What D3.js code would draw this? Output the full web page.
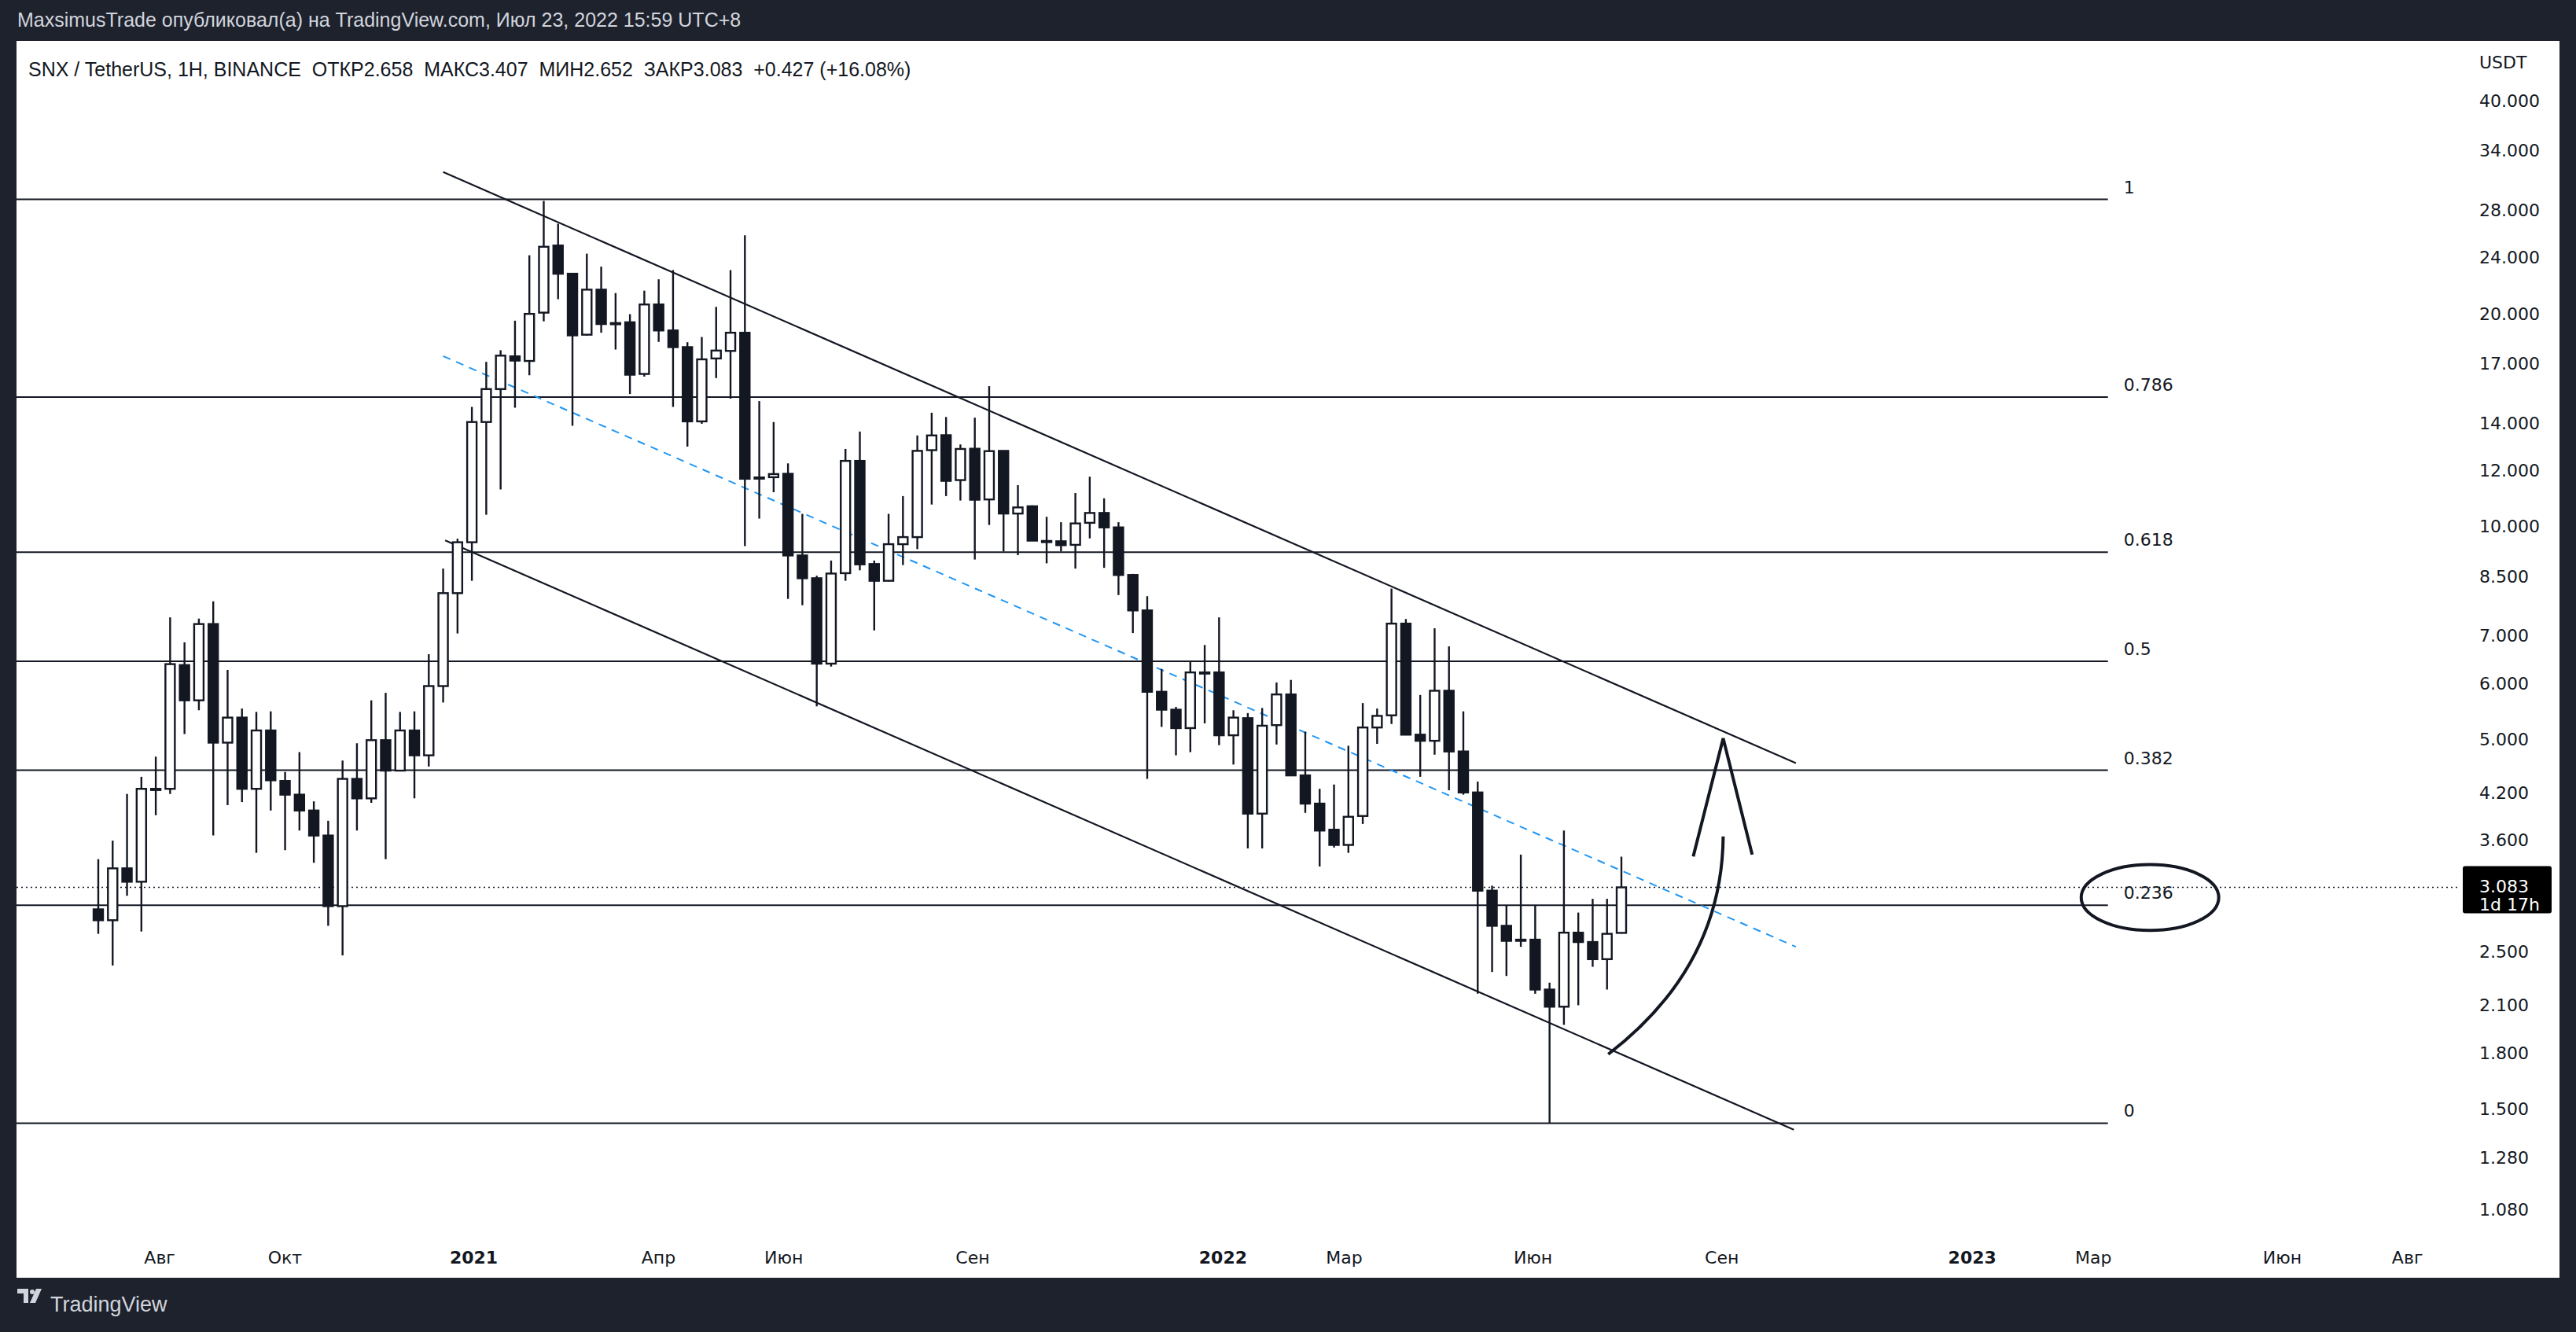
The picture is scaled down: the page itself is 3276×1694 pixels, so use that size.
<!DOCTYPE html>
<html><head><meta charset="utf-8">
<script src="https://cdn.jsdelivr.net/npm/d3@7"></script>
<style>html,body{margin:0;padding:0;background:#1e222d;}svg{display:block;}</style>
</head><body>
<svg id="c" width="3276" height="1694"></svg>
<script>
const startWeek = "2020-06-29";
const opens  = [2.87,2.77,3.28,3.14,4.24,4.25,6.36,5.67,7.27,4.94,5.36,4.25,5.14,4.36,4.17,3.96,3.65,2.90,4.39,4.12,4.98,4.51,5.14,4.74,5.94,8.04,9.49,14.04,15.63,17.39,
 17.13,20.05,24.95,22.76,18.66,21.61,19.38,19.43,16.42,20.59,18.92,17.92,14.07,17.27,17.70,18.78,11.72,11.73,11.86,9.09,8.44,6.39,8.58,12.37,8.84,8.37,9.43,9.65,12.81,
 13.45,11.62,12.87,10.91,12.78,10.42,10.67,9.53,9.52,9.41,10.11,10.44,9.96,8.53,7.60,5.83,5.50,5.18,6.21,6.21,5.06,5.35,3.92,5.23,5.78,4.44,4.05,3.72,3.54,
 3.89,5.19,5.40,7.28,5.07,4.97,5.85,4.80,4.20,3.05,2.72,2.60,2.60,2.21,2.09,2.66,2.58,2.44,2.658];
const highs  = [3.38,3.59,4.18,4.42,4.72,7.43,6.85,7.40,7.83,6.26,5.52,5.46,5.47,4.49,4.79,4.08,3.83,4.66,4.93,5.67,5.81,5.46,5.47,6.59,8.71,9.60,14.75,17.08,17.74,19.53,
 24.17,28.85,26.79,22.81,24.30,23.29,21.37,19.95,21.54,22.35,23.03,18.21,18.52,20.43,23.03,25.79,15.03,14.04,12.27,10.41,8.51,8.94,12.86,13.61,8.94,10.41,11.03,13.44,14.47,
 14.27,13.05,14.24,15.78,12.79,11.43,10.70,10.31,10.13,11.14,11.75,10.95,10.13,8.56,7.96,6.28,5.55,6.43,6.79,7.43,5.49,5.44,5.53,6.01,6.06,5.12,4.25,4.31,4.89,
 5.62,5.52,8.16,7.39,5.77,7.17,6.76,5.47,4.35,3.10,2.91,3.43,2.91,2.26,3.71,2.84,2.97,2.97,3.407];
const lows   = [2.65,2.39,3.00,2.67,3.90,4.18,5.08,5.49,3.65,4.03,4.07,3.45,3.96,3.48,3.71,3.34,2.72,2.47,3.71,4.06,3.38,4.51,4.12,4.57,5.63,7.05,8.37,10.38,11.27,14.71,
 16.35,19.49,20.95,13.87,18.60,18.78,17.78,15.38,16.28,18.23,14.75,12.96,13.96,16.20,15.15,9.37,10.25,11.17,7.89,7.73,5.56,6.33,8.37,8.66,7.12,8.35,8.81,9.28,10.73,
 11.03,10.87,8.97,10.04,9.21,9.10,9.53,8.86,9.21,8.71,9.61,8.73,7.99,7.06,4.39,5.20,4.74,4.79,5.26,4.90,4.60,3.50,3.50,4.91,4.44,3.93,3.30,3.51,3.45,
 3.79,4.92,5.25,5.07,4.42,4.75,4.23,4.17,2.18,2.34,2.31,2.54,2.18,1.43,1.97,2.10,2.38,2.21,2.652];
const closes = [2.77,3.28,3.14,4.25,4.25,6.38,5.67,7.27,4.94,5.36,4.25,5.14,4.37,4.17,3.96,3.65,2.90,4.39,4.12,4.98,4.51,5.14,4.74,5.94,8.04,9.49,14.04,15.63,17.43,17.15,
 19.97,24.85,22.76,18.62,21.61,19.32,19.36,16.38,20.59,18.92,17.92,14.07,17.22,17.72,18.78,11.67,11.70,11.85,9.09,8.44,6.39,8.57,12.37,8.83,8.37,9.43,9.65,12.78,13.44,
 11.59,12.86,10.90,12.77,10.42,10.63,9.54,9.53,9.40,10.09,10.44,9.96,8.53,7.60,5.83,5.50,5.18,6.21,6.21,5.06,5.36,3.92,5.22,5.78,4.44,4.05,3.71,3.54,3.88,
 5.19,5.39,7.28,5.07,4.97,5.85,4.80,4.20,3.05,2.72,2.59,2.59,2.21,2.09,2.66,2.58,2.44,2.65,3.083];

const priceTicks = [40,34,28,24,20,17,14,12,10,8.5,7,6,5,4.2,3.6,2.5,2.1,1.8,1.5,1.28,1.08];
const timeTicks = [["2020-08-01","Авг",0],["2020-10-01","Окт",0],["2021-01-01","2021",1],["2021-04-01","Апр",0],["2021-06-01","Июн",0],["2021-09-01","Сен",0],
 ["2022-01-01","2022",1],["2022-03-01","Мар",0],["2022-06-01","Июн",0],["2022-09-01","Сен",0],["2023-01-01","2023",1],["2023-03-01","Мар",0],["2023-06-01","Июн",0],["2023-08-01","Авг",0]];
const fibLevels = ["1","0.786","0.618","0.5","0.382","0.236","0"];
const fibHigh = 29.0, fibLow = 1.43, fibEnd = "2023-03-05";
const upperLine = [["2020-12-14",31.7],["2022-10-04",4.62]];
const lowerLine = [["2020-12-15",9.55],["2022-10-03",1.40]];
const midLine   = [["2020-12-14",17.4],["2022-10-04",2.54]];
const arrowCurve = [["2022-07-04T14:00Z",1.79],["2022-08-29T00:00Z",2.38],["2022-08-29T14:00Z",3.64]];
const chevron = [["2022-08-15",3.41],["2022-08-29T14:00Z",5.01],["2022-09-12T17:00Z",3.43]];
const ellipseBox = [["2023-02-20",3.32],["2023-04-28",2.68]];
const lastPrice = 3.083;

const svg = d3.select("#c");
const P = d => new Date(d.length<=10 ? d+"T00:00:00Z" : d);
const t0 = P(startWeek);
const dates = opens.map((_,i)=>d3.utcDay.offset(t0,7*i));
const x = d3.scaleUtc().domain([t0, dates[dates.length-1]]).range([125,2062]);
const y = d3.scaleLog().domain([1.08,40]).range([1538,128]);

svg.append("rect").attr("x",21).attr("y",52).attr("width",3234).attr("height",1573).attr("fill","#fff");
const font = "'Liberation Sans', Arial, sans-serif";
const afont = "'DejaVu Sans', sans-serif";
svg.append("text").attr("x",22).attr("y",34).attr("fill","#d1d4dc").attr("font-family",font).attr("font-size",25)
  .text("MaxsimusTrade опубликовал(а) на TradingView.com, Июл 23, 2022 15:59 UTC+8");
svg.append("text").attr("x",36).attr("y",97).attr("fill","#131722").attr("font-family",font).attr("font-size",25)
  .attr("xml:space","preserve").text("SNX / TetherUS, 1H, BINANCE  ОТКР2.658  МАКС3.407  МИН2.652  ЗАКР3.083  +0.427 (+16.08%)");

svg.append("clipPath").attr("id","pc").append("rect").attr("x",21).attr("y",52).attr("width",3105).attr("height",1520);
const g = svg.append("g").attr("clip-path","url(#pc)");
const ink = "#131722";

const lh = Math.log(fibHigh), ll = Math.log(fibLow);
fibLevels.forEach(l=>{
  const p = Math.exp(ll + (+l)*(lh-ll));
  g.append("line").attr("x1",21).attr("x2",x(P(fibEnd))).attr("y1",y(p)).attr("y2",y(p)).attr("stroke",ink).attr("stroke-width",2);
  svg.append("text").attr("x",x(P(fibEnd))+20).attr("y",y(p)-8).attr("fill",ink).attr("font-family",afont).attr("font-size",22).text(l);
});
g.append("line").attr("x1",21).attr("x2",3132).attr("y1",y(lastPrice)).attr("y2",y(lastPrice)).attr("stroke",ink).attr("stroke-width",1.6).attr("stroke-dasharray","2,4");

const seg = (pts,stroke,w,dash)=>g.append("line").attr("x1",x(P(pts[0][0]))).attr("y1",y(pts[0][1])).attr("x2",x(P(pts[1][0]))).attr("y2",y(pts[1][1]))
  .attr("stroke",stroke).attr("stroke-width",w).attr("stroke-dasharray",dash||null);
seg(upperLine,ink,2.2); seg(lowerLine,ink,2.2); seg(midLine,"#2196f3",2,"10,8");

const bw = 12;
opens.forEach((o,i)=>{
  const c = closes[i], cx = x(dates[i]);
  g.append("line").attr("x1",cx).attr("x2",cx).attr("y1",y(highs[i])).attr("y2",y(lows[i])).attr("stroke",ink).attr("stroke-width",2.4);
  const top = y(Math.max(o,c)), bot = y(Math.min(o,c));
  g.append("rect").attr("x",cx-bw/2).attr("y",top).attr("width",bw).attr("height",Math.max(bot-top,1.5))
   .attr("fill", c>=o ? "#fff" : ink).attr("stroke",ink).attr("stroke-width",2.4);
});

const ac = arrowCurve.map(d=>[x(P(d[0])),y(d[1])]);
g.append("path").attr("d",`M${ac[0]}Q${ac[1]} ${ac[2]}`).attr("fill","none").attr("stroke",ink).attr("stroke-width",4);
g.append("path").attr("d",d3.line()(chevron.map(d=>[x(P(d[0])),y(d[1])]))).attr("fill","none").attr("stroke",ink).attr("stroke-width",4);
const ex1=x(P(ellipseBox[0][0])), ex2=x(P(ellipseBox[1][0])), ey1=y(ellipseBox[0][1]), ey2=y(ellipseBox[1][1]);
g.append("ellipse").attr("cx",(ex1+ex2)/2).attr("cy",(ey1+ey2)/2).attr("rx",(ex2-ex1)/2).attr("ry",(ey2-ey1)/2).attr("fill","none").attr("stroke",ink).attr("stroke-width",4);

svg.append("text").attr("x",3153).attr("y",87).attr("fill",ink).attr("font-family",afont).attr("font-size",22).text("USDT");
priceTicks.forEach(p=>svg.append("text").attr("x",3153).attr("y",y(p)+8).attr("fill",ink).attr("font-family",afont).attr("font-size",22).text(p.toFixed(3)));
const ly = y(lastPrice);
svg.append("rect").attr("x",3132).attr("y",ly-27).attr("width",113).attr("height",60).attr("rx",3).attr("fill","#000");
svg.append("text").attr("x",3153).attr("y",ly+6).attr("fill","#fff").attr("font-family",afont).attr("font-size",22).text("3.083");
svg.append("text").attr("x",3153).attr("y",ly+29).attr("fill","#fff").attr("font-family",afont).attr("font-size",22).text("1d 17h");

timeTicks.forEach(t=>svg.append("text").attr("x",x(P(t[0]))-8).attr("y",1607).attr("text-anchor","middle").attr("fill",ink)
  .attr("font-family",afont).attr("font-size",22).attr("font-weight",t[2]?"bold":"normal").text(t[1]));

const fg = svg.append("g").attr("transform","translate(22,1646)");
fg.append("path").attr("d","M0,-7h14v18h-6v-12h-8z M16,11l8,-18h7l-8,18z").attr("fill","#d1d4dc");
fg.append("circle").attr("cx",19).attr("cy",-3).attr("r",3).attr("fill","#d1d4dc");
svg.append("text").attr("x",64).attr("y",1668).attr("fill","#d1d4dc").attr("font-family",font).attr("font-size",27).text("TradingView");
</script></body></html>
